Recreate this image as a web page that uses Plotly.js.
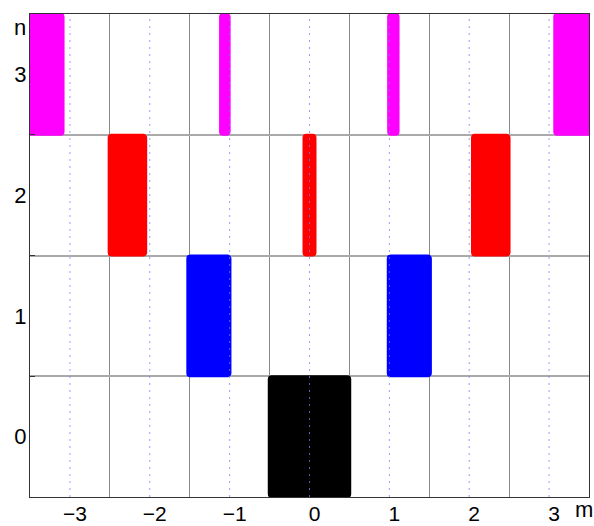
<!DOCTYPE html>
<html><head><meta charset="utf-8">
<script src="https://cdn.plot.ly/plotly-3.0.1.min.js"></script>
<style>html,body{margin:0;padding:0;background:#fff}#chart{width:594px;height:526px}</style>
</head><body><div id="chart"></div>
<script>
// rows (n) and their colours
const levels = [0, 1, 2, 3];
const colors = ['#000000', '#0000ff', '#ff0000', '#ff00ff'];
// bar centres (m) and widths for each row
const m0 = [0];                       const w0 = [1.02];
const m1 = [-1.26, 1.25];             const w1 = [0.54, 0.54];
const m2 = [-2.28, 0, 2.27];          const w2 = [0.47, 0.15, 0.47];
const m3 = [-3.3, -1.06, 1.05, 3.29]; const w3 = [0.44, 0.12, 0.13, 0.45];
// axis ticks
const mTicks = [-3, -2, -1, 0, 1, 2, 3];
const nTicks = [0, 1, 2, 3];
const mEdges = [-2.5, -1.5, -0.5, 0.5, 1.5, 2.5];
const nEdges = [0.5, 1.5, 2.5];

const rows = [[m0, w0], [m1, w1], [m2, w2], [m3, w3]];
const traces = rows.map((r, i) => ({
  type: 'bar',
  x: r[0],
  width: r[1],
  y: r[0].map(() => 1),
  base: levels[i] - 0.5,
  marker: {color: colors[i], line: {color: colors[i], width: 2}, cornerradius: 3},
  hoverinfo: 'skip',
  showlegend: false
}));

const shapes = mTicks.map(v => ({
  type: 'line', xref: 'x', yref: 'paper', x0: v, x1: v, y0: 0, y1: 1,
  layer: 'above', line: {color: 'rgba(120,120,255,0.75)', width: 1, dash: '2px,5px'}
}));

const font = {family: '"Liberation Sans", Arial, Helvetica, sans-serif', size: 22, color: '#000'};
const xfont = {family: '"Liberation Sans", Arial, Helvetica, sans-serif', size: 21, color: '#000'};

const layout = {
  width: 594, height: 526,
  margin: {l: 30, r: 5, t: 14, b: 29, pad: 0},
  paper_bgcolor: '#fff', plot_bgcolor: '#fff',
  barmode: 'overlay',
  font: font,
  xaxis: {
    range: [-3.5, 3.5], tickmode: 'array', tickvals: mTicks,
    ticktext: mTicks.map(v => v < 0 ? '\u2212' + Math.abs(v) : String(v)),
    showgrid: false, zeroline: false, ticks: '',
    showline: true, linecolor: '#333', linewidth: 1, mirror: true,
    ticklabelshift: 5, ticklabelstandoff: -2,
    minor: {tickmode: 'array', tickvals: mEdges, showgrid: true, gridcolor: '#8a8a8a', gridwidth: 1, ticks: ''},
    tickfont: xfont, fixedrange: true
  },
  yaxis: {
    range: [-0.5, 3.5], tickmode: 'array', tickvals: nTicks,
    showgrid: false, zeroline: false, ticks: '',
    showline: true, linecolor: '#333', linewidth: 1, mirror: true,
    ticklabelstandoff: -2,
    minor: {tickmode: 'array', tickvals: nEdges, showgrid: true, gridcolor: '#aaaaaa', gridwidth: 2, ticks: 'inside', ticklen: 5, tickcolor: '#333'},
    tickfont: font, fixedrange: true
  },
  shapes: shapes,
  annotations: [
    {text: 'n', xref: 'paper', yref: 'paper', x: 0, y: 1, xshift: -10, yshift: -13, showarrow: false, xanchor: 'center', yanchor: 'middle', font: font},
    {text: 'm', xref: 'paper', yref: 'paper', x: 1, y: 0, xshift: -5, yshift: -12, showarrow: false, xanchor: 'center', yanchor: 'middle', font: font}
  ]
};

Plotly.newPlot('chart', traces, layout, {displayModeBar: false, staticPlot: true});
</script></body></html>
